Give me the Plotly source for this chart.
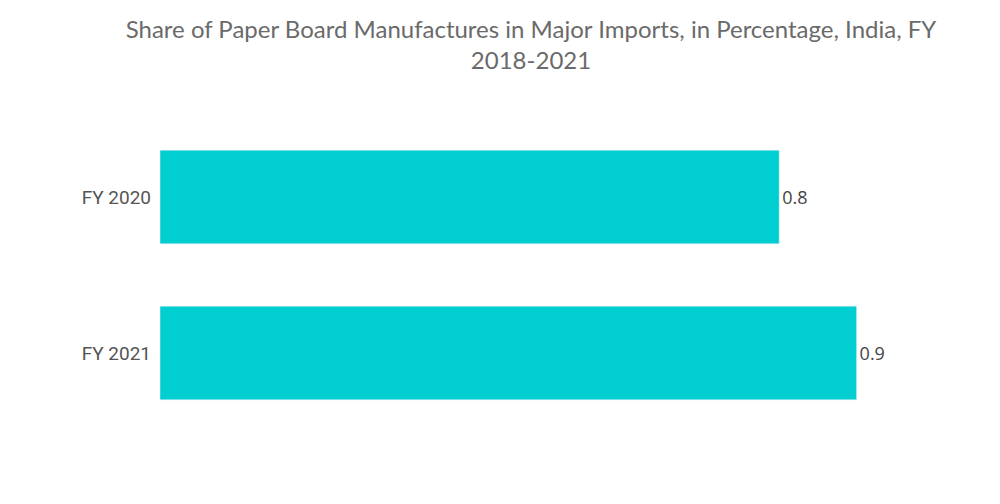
import plotly.graph_objects as go

years = ["FY 2020", "FY 2021"]
share = [0.8, 0.9]

fig = go.Figure(go.Bar(
    x=share,
    y=years,
    orientation="h",
    marker_color="#00CED1",
    text=[str(v) for v in share],
    textposition="outside",
    textfont=dict(family="Open Sans, sans-serif", size=18, color="#444444"),
    cliponaxis=False,
))

fig.update_layout(
    width=1000,
    height=504,
    title=dict(
        text="Share of Paper Board Manufactures in Major Imports, in Percentage, India, FY<br>2018-2021",
        x=0.523,
        xanchor="center",
        y=0.94,
        yanchor="top",
        font=dict(family="Lato, sans-serif", size=24, color="#6a6a6a"),
    ),
    font=dict(family="Roboto, sans-serif", size=19, color="#555555"),
    plot_bgcolor="white",
    paper_bgcolor="white",
    bargap=0.4,
    margin=dict(l=152, r=74, t=111, b=81),
    showlegend=False,
)
fig.update_xaxes(range=[0, 1.0], visible=False)
fig.update_yaxes(autorange="reversed", showgrid=False, ticks="", ticklabelstandoff=8,
                 tickfont=dict(family="Roboto, sans-serif", size=19, color="#555555"))

fig.write_html("out.html")
